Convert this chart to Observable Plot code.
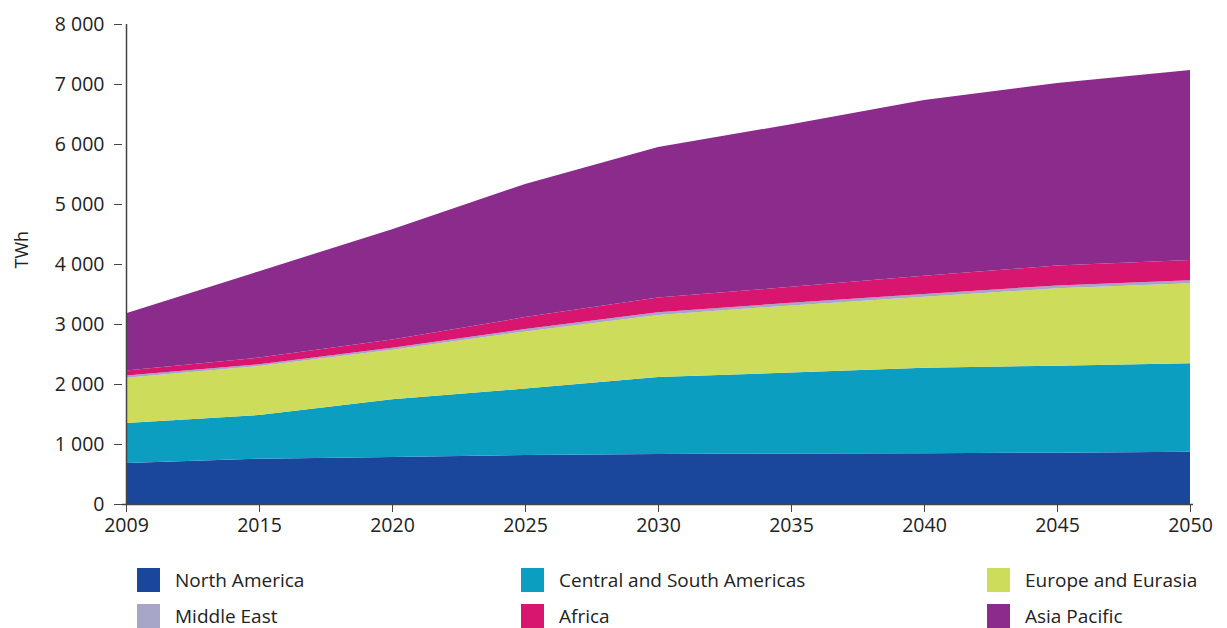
<!DOCTYPE html>
<html>
<head>
<meta charset="utf-8">
<script src="https://cdn.jsdelivr.net/npm/d3@7"></script>
<script src="https://cdn.jsdelivr.net/npm/@observablehq/plot@0.6"></script>
<style>
  body { margin: 0; background: #fff; font-family: "Open Sans", sans-serif; color: #222; overflow: hidden; }
  #wrap { position: relative; width: 1227px; height: 628px; }
  #wrap svg { display: block; }
  .leg { position: absolute; display: flex; align-items: center; height: 24px; line-height: 20px; font-size: 19px; color: #222; white-space: nowrap; }
  .sw { width: 23px; height: 24px; margin-right: 15px; flex: none; }
</style>
</head>
<body>
<div id="wrap"></div>
<script>
const years = ["2009", "2015", "2020", "2025", "2030", "2035", "2040", "2045", "2050"];
const regions = ["North America", "Central and South Americas", "Europe and Eurasia", "Middle East", "Africa", "Asia Pacific"];
const colors = ["#1a479c", "#0b9ec1", "#cddc5a", "#a7a5c8", "#d9166f", "#8b2b8b"];
const northAmerica = [683, 755, 783, 817, 833, 842, 846, 856, 870];
const centralSouthAmericas = [667, 728, 962, 1108, 1282, 1348, 1424, 1449, 1475];
const europeEurasia = [756, 817, 825, 950, 1035, 1120, 1186, 1289, 1333];
const middleEast = [34, 30, 35, 40, 45, 45, 45, 48, 50];
const africa = [83, 110, 135, 200, 245, 265, 304, 333, 339];
const asiaPacific = [957, 1440, 1840, 2218, 2510, 2710, 2928, 3042, 3166];
const yTicks = [0, 1000, 2000, 3000, 4000, 5000, 6000, 7000, 8000];

const series = [northAmerica, centralSouthAmericas, europeEurasia, middleEast, africa, asiaPacific];
const data = [];
regions.forEach((r, i) => years.forEach((y, j) => data.push({year: y, region: r, value: series[i][j]})));

const fmt = d => d3.format(",")(d).replace(/,/g, " ");

const chart = Plot.plot({
  width: 1227,
  height: 545,
  marginLeft: 122,
  marginRight: 34,
  marginTop: 24,
  marginBottom: 41,
  style: {fontFamily: "Open Sans, sans-serif", fontSize: "19px", color: "#222", background: "#fff"},
  x: {type: "point", domain: years, padding: 0},
  y: {domain: [0, 8000]},
  color: {domain: regions, range: colors},
  marks: [
    Plot.areaY(data, {x: "year", y: "value", fill: "region", z: "region", order: regions}),
    Plot.ruleY([0], {stroke: "#444", strokeWidth: 1.5}),
    Plot.ruleX([years[0]], {stroke: "#444", strokeWidth: 1.5}),
    Plot.axisY({ticks: yTicks, tickFormat: fmt, tickSize: 8, tickPadding: 10, stroke: "#444", label: null, fontSize: 19.5}),
    Plot.axisX({tickSize: 8, tickPadding: 6, stroke: "#444", label: null, fontSize: 19.5}),
    Plot.text(["TWh"], {frameAnchor: "left", dx: -100, dy: 4, rotate: -90, fontSize: 18, fill: "#222"})
  ]
});
const wrap = document.getElementById("wrap");
wrap.appendChild(chart);

const pos = [[137, 568], [521, 568], [987, 568], [137, 604], [521, 604], [987, 604]];
regions.forEach((r, i) => {
  const d = document.createElement("div");
  d.className = "leg";
  d.style.left = pos[i][0] + "px";
  d.style.top = pos[i][1] + "px";
  d.innerHTML = `<div class="sw" style="background:${colors[i]}"></div><span>${r}</span>`;
  wrap.appendChild(d);
});
</script>
</body>
</html>
